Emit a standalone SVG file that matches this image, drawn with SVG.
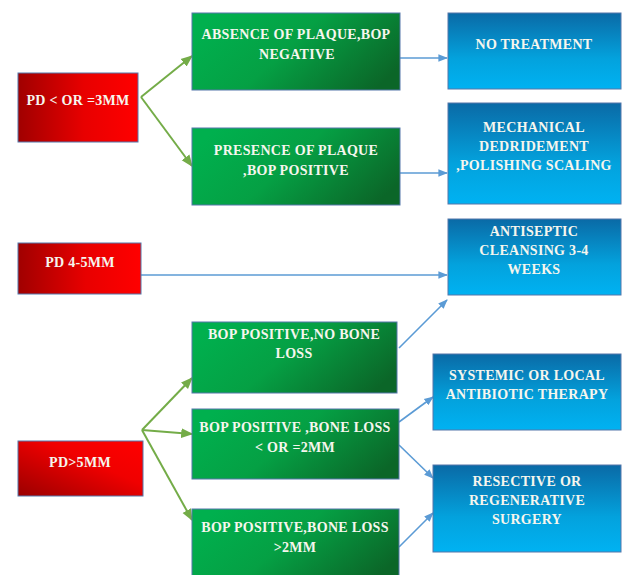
<svg xmlns="http://www.w3.org/2000/svg" width="622" height="575" viewBox="0 0 622 575">
<defs>
<linearGradient id="gRed" x1="0" y1="0" x2="1" y2="0"><stop offset="0" stop-color="#a00000"/><stop offset="0.55" stop-color="#e80000"/><stop offset="1" stop-color="#ff0000"/></linearGradient>
<linearGradient id="gRed3" x1="0" y1="1" x2="1" y2="0"><stop offset="0" stop-color="#9a0000"/><stop offset="0.6" stop-color="#f00000"/><stop offset="1" stop-color="#ff0000"/></linearGradient>
<linearGradient id="gGreen" x1="0" y1="0.3" x2="1" y2="0.7"><stop offset="0" stop-color="#00b04e"/><stop offset="0.45" stop-color="#05a044"/><stop offset="1" stop-color="#0b6628"/></linearGradient>
<linearGradient id="gBlue" x1="0" y1="0" x2="0" y2="1"><stop offset="0" stop-color="#0a6aa6"/><stop offset="0.6" stop-color="#03a2dd"/><stop offset="1" stop-color="#00b2f2"/></linearGradient>
<marker id="aG" viewBox="0 0 10 10" refX="9" refY="5" markerWidth="6" markerHeight="6" orient="auto"><path d="M0,1 L10,5 L0,9 z" fill="#74ac48"/></marker>
<marker id="aB" viewBox="0 0 10 10" refX="9" refY="5" markerWidth="6" markerHeight="6" orient="auto"><path d="M0,1 L10,5 L0,9 z" fill="#5b9bd5"/></marker>
</defs>
<style>
.box{stroke:#5577aa;stroke-width:1}
.red{fill:url(#gRed)}
.green{fill:url(#gGreen)}
.blue{fill:url(#gBlue)}
text{font-family:"Liberation Serif","Times New Roman",serif;font-weight:bold;font-size:14px;letter-spacing:0.3px;fill:#f6f6ee;text-anchor:middle}
.cg{stroke:#74ac48;stroke-width:2;fill:none;marker-end:url(#aG)}
.cb{stroke:#5b9bd5;stroke-width:1.6;fill:none;marker-end:url(#aB)}
</style>
<rect width="622" height="575" fill="#ffffff"/>
<g id="connectors">
<line class="cg" x1="141" y1="97" x2="192" y2="56"/>
<line class="cg" x1="141" y1="97" x2="192" y2="166"/>
<line class="cb" x1="400" y1="58" x2="447" y2="58"/>
<line class="cb" x1="400" y1="173" x2="447" y2="173"/>
<line class="cb" x1="141" y1="275" x2="447" y2="275"/>
<line class="cb" x1="399" y1="348" x2="447" y2="300"/>
<line class="cg" x1="142" y1="430" x2="192" y2="378"/>
<line class="cg" x1="142" y1="430" x2="192" y2="434"/>
<line class="cg" x1="142" y1="430" x2="192" y2="520"/>
<line class="cb" x1="399" y1="422" x2="433" y2="397"/>
<line class="cb" x1="399" y1="445" x2="433" y2="478"/>
<line class="cb" x1="399" y1="547" x2="433" y2="513"/>
</g>
<g id="pd3"><rect class="box red" x="18" y="73" width="120" height="69"/><text x="78" y="105">PD &lt; OR =3MM</text></g>
<g id="pd45"><rect class="box red" x="18" y="243" width="123" height="51"/><text x="80" y="267">PD 4-5MM</text></g>
<g id="pd5"><rect class="box" fill="url(#gRed3)" x="18" y="441" width="125" height="55"/><text x="80" y="467">PD&gt;5MM</text></g>
<g id="absence"><rect class="box green" x="192" y="13" width="208" height="77"/><text x="296" y="39">ABSENCE OF PLAQUE,BOP</text><text x="297" y="59">NEGATIVE</text></g>
<g id="presence"><rect class="box green" x="192" y="128" width="208" height="77"/><text x="296" y="155">PRESENCE OF PLAQUE</text><text x="296" y="175">,BOP POSITIVE</text></g>
<g id="nobone"><rect class="box green" x="192" y="322" width="205" height="71"/><text x="294" y="339">BOP POSITIVE,NO BONE</text><text x="294" y="358">LOSS</text></g>
<g id="bone2"><rect class="box green" x="192" y="409" width="207" height="70"/><text x="295" y="432">BOP POSITIVE ,BONE LOSS</text><text x="295" y="452">&lt; OR =2MM</text></g>
<g id="bonegt2"><rect class="box green" x="192" y="509" width="207" height="70"/><text x="295" y="532">BOP POSITIVE,BONE LOSS</text><text x="295" y="552">&gt;2MM</text></g>
<g id="notreat"><rect class="box blue" x="448" y="13" width="173" height="76"/><text x="534" y="49">NO TREATMENT</text></g>
<g id="mech"><rect class="box blue" x="448" y="103" width="173" height="101"/><text x="534" y="132">MECHANICAL</text><text x="534" y="151">DEDRIDEMENT</text><text x="534" y="170">,POLISHING SCALING</text></g>
<g id="antiseptic"><rect class="box blue" x="448" y="219" width="173" height="76"/><text x="534" y="236">ANTISEPTIC</text><text x="534" y="255">CLEANSING 3-4</text><text x="534" y="274">WEEKS</text></g>
<g id="antibiotic"><rect class="box blue" x="433" y="354" width="188" height="76"/><text x="527" y="380">SYSTEMIC OR LOCAL</text><text x="527" y="399">ANTIBIOTIC THERAPY</text></g>
<g id="surgery"><rect class="box blue" x="433" y="465" width="188" height="87"/><text x="527" y="486">RESECTIVE OR</text><text x="527" y="505">REGENERATIVE</text><text x="527" y="524">SURGERY</text></g>
</svg>
